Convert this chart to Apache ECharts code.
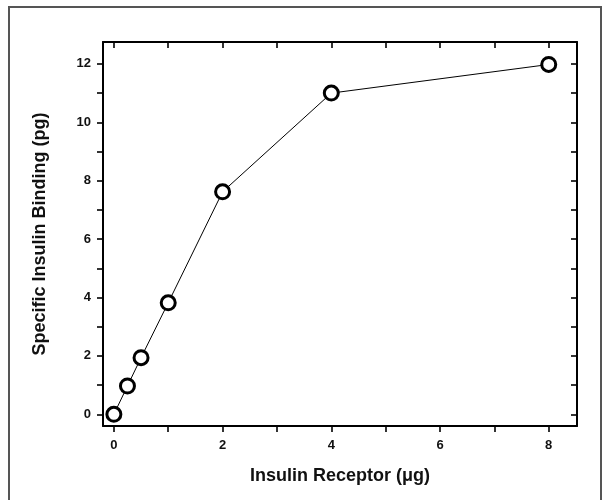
<!DOCTYPE html>
<html><head><meta charset="utf-8">
<script src="https://cdn.jsdelivr.net/npm/echarts@6/dist/echarts.min.js"></script>
<style>html,body{margin:0;padding:0;background:#fff}#c{width:608px;height:500px}</style>
</head><body><div id="c"></div>
<script>
const receptorUg = [0, 0.25, 0.5, 1, 2, 4, 8];
const bindingPg = [0, 0.97, 1.94, 3.82, 7.62, 11.0, 11.98];
const xTickLabels = [0, 2, 4, 6, 8];
const xTicks = [0, 1, 2, 3, 4, 5, 6, 7, 8];
const yTickLabels = [0, 2, 4, 6, 8, 10, 12];
const yTicks = [0, 1, 2, 3, 4, 5, 6, 7, 8, 9, 10, 11, 12];

const FONT = '"Liberation Sans", Arial, sans-serif';
const chart = echarts.init(document.getElementById('c'), null, {renderer: 'canvas'});
const lineStyle = {color: '#000', width: 2};
const tickStyle = {color: '#000', width: 1.6};
const xMin = -0.2, xMax = 8.52, yMin = -0.4, yMax = 12.75;

chart.setOption({
  backgroundColor: '#fff',
  animation: false,
  graphic: [{
    type: 'rect', shape: {x: 9, y: 7, width: 592, height: 510},
    style: {fill: 'none', stroke: '#555', lineWidth: 2}, silent: true
  }],
  grid: {left: 103, right: 31, top: 42, bottom: 74, containLabel: false},
  xAxis: [{
    type: 'value', min: xMin, max: xMax, position: 'bottom',
    name: 'Insulin Receptor (μg)', nameLocation: 'middle', nameGap: 41,
    nameTextStyle: {fontFamily: FONT, fontWeight: 'bold', fontSize: 18, color: '#111'},
    axisLine: {show: true, onZero: false, lineStyle},
    axisTick: {show: true, inside: false, length: 6, customValues: xTicks, lineStyle: tickStyle},
    axisLabel: {show: true, customValues: xTickLabels, margin: 13,
      fontFamily: FONT, fontWeight: 'bold', fontSize: 13, color: '#111'},
    splitLine: {show: false}
  }, {
    type: 'value', min: xMin, max: xMax, position: 'top',
    axisLine: {show: true, onZero: false, lineStyle},
    axisTick: {show: true, inside: true, length: 6, customValues: xTicks, lineStyle: tickStyle},
    axisLabel: {show: false}, splitLine: {show: false}
  }],
  yAxis: [{
    type: 'value', min: yMin, max: yMax, position: 'left',
    name: 'Specific Insulin Binding (pg)', nameLocation: 'middle', nameGap: 54,
    nameTextStyle: {fontFamily: FONT, fontWeight: 'bold', fontSize: 18, color: '#111'},
    axisLine: {show: true, onZero: false, lineStyle},
    axisTick: {show: true, inside: false, length: 6, customValues: yTicks, lineStyle: tickStyle},
    axisLabel: {show: true, customValues: yTickLabels, margin: 12,
      fontFamily: FONT, fontWeight: 'bold', fontSize: 13, color: '#111'},
    splitLine: {show: false}
  }, {
    type: 'value', min: yMin, max: yMax, position: 'right',
    axisLine: {show: true, onZero: false, lineStyle},
    axisTick: {show: true, inside: true, length: 6, customValues: yTicks, lineStyle: tickStyle},
    axisLabel: {show: false}, splitLine: {show: false}
  }],
  series: [{
    type: 'line', xAxisIndex: 0, yAxisIndex: 0,
    data: receptorUg.map((x, i) => [x, bindingPg[i]]),
    symbol: 'circle', symbolSize: 14, showAllSymbol: true,
    lineStyle: {color: '#000', width: 1},
    itemStyle: {color: '#fff', borderColor: '#000', borderWidth: 3},
    emphasis: {disabled: true}
  }]
});
</script></body></html>
